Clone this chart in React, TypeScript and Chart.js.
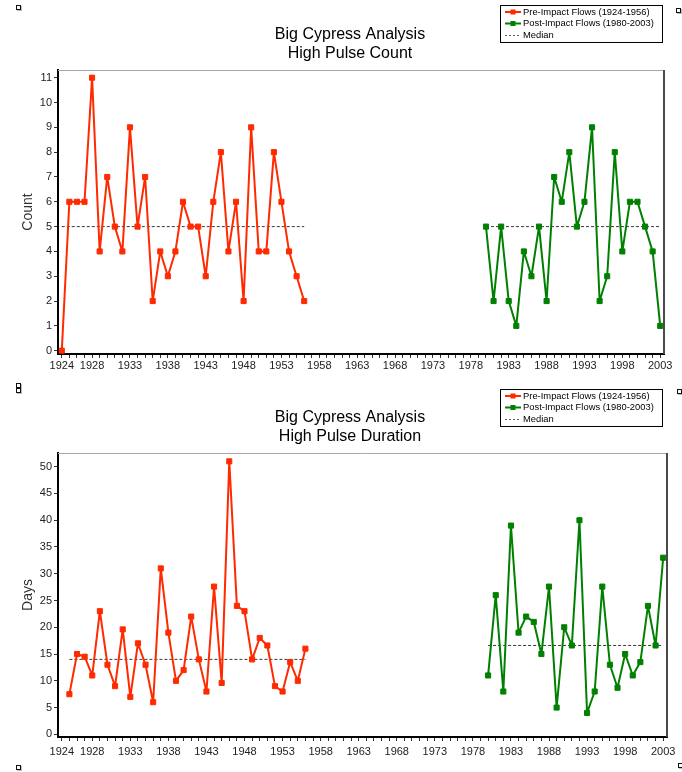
import React, { useEffect, useRef } from 'react';
import { Chart, registerables } from 'chart.js';

Chart.register(...registerables);

const FONT = '"Liberation Sans", Arial, Helvetica, sans-serif';
Chart.defaults.font.family = FONT;

// ---------- data ----------
const preCountYears = [1924, 1925, 1926, 1927, 1928, 1929, 1930, 1931, 1932, 1933, 1934, 1935, 1936, 1937, 1938, 1939, 1940, 1941, 1942, 1943, 1944, 1945, 1946, 1947, 1948, 1949, 1950, 1951, 1952, 1953, 1954, 1955, 1956];
const preCountValues = [0, 6, 6, 6, 11, 4, 7, 5, 4, 9, 5, 7, 2, 4, 3, 4, 6, 5, 5, 3, 6, 8, 4, 6, 2, 9, 4, 4, 8, 6, 4, 3, 2];
const postYears = [1980, 1981, 1982, 1983, 1984, 1985, 1986, 1987, 1988, 1989, 1990, 1991, 1992, 1993, 1994, 1995, 1996, 1997, 1998, 1999, 2000, 2001, 2002, 2003];
const postCountValues = [5, 2, 5, 2, 1, 4, 3, 5, 2, 7, 6, 8, 5, 6, 9, 2, 3, 8, 4, 6, 6, 5, 4, 1];
const countPreMedian = 5;
const countPostMedian = 5;

const preDurationYears = [1925, 1926, 1927, 1928, 1929, 1930, 1931, 1932, 1933, 1934, 1935, 1936, 1937, 1938, 1939, 1940, 1941, 1942, 1943, 1944, 1945, 1946, 1947, 1948, 1949, 1950, 1951, 1952, 1953, 1954, 1955, 1956];
const preDurationValues = [7.5, 15, 14.5, 11, 23, 13, 9, 19.6, 7, 17, 13, 6, 31, 19, 10, 12, 22, 14, 8, 27.6, 9.6, 51, 24, 23, 14, 18, 16.6, 9, 8, 13.5, 10, 16];
const postDurationValues = [11, 26, 8, 39, 19, 22, 21, 15, 27.6, 5, 20, 16.6, 40, 4, 8, 27.6, 13, 8.7, 15, 11, 13.5, 24, 16.6, 33];
const durationPreMedian = 14;
const durationPostMedian = 16.6;

const xLabelYears = [1924, 1928, 1933, 1938, 1943, 1948, 1953, 1958, 1963, 1968, 1973, 1978, 1983, 1988, 1993, 1998, 2003];
const countTicks = [0, 1, 2, 3, 4, 5, 6, 7, 8, 9, 10, 11];
const durationTicks = [0, 5, 10, 15, 20, 25, 30, 35, 40, 45, 50];

const seriesLabels = ['Pre-Impact Flows (1924-1956)', 'Post-Impact Flows (1980-2003)', 'Median'];
const mainTitle = 'Big Cypress Analysis';

// ---------- styles ----------
const RED = '#ff2a00';
const GREEN = '#008000';
const MEDIAN = '#3a3a3a';

const xTickYears: number[] = [];
for (let y = 1924; y <= 2003; y++) xTickYears.push(y);

const pts = (xs: number[], ys: number[]) => xs.map((x, i) => ({ x, y: ys[i] }));

const frameAndLegend = {
  id: 'boxLegend',
  afterDraw(chart: any, _args: any, opts: any) {
    const { ctx, chartArea: a } = chart;
    ctx.save();
    // top & right frame of plot area
    ctx.strokeStyle = '#a8a8a8';
    ctx.lineWidth = 1;
    ctx.beginPath();
    ctx.moveTo(a.left, a.top + 0.5);
    ctx.lineTo(a.right, a.top + 0.5);
    ctx.stroke();
    ctx.strokeStyle = '#4a4a4a';
    ctx.lineWidth = 2;
    ctx.beginPath();
    ctx.moveTo(a.right, a.top);
    ctx.lineTo(a.right, a.bottom);
    ctx.stroke();

    // legend box
    const x = opts.x, y = opts.y, w = opts.w, h = opts.h;
    ctx.fillStyle = '#fff';
    ctx.fillRect(x, y, w, h);
    ctx.strokeStyle = '#000';
    ctx.lineWidth = 1;
    ctx.strokeRect(x + 0.5, y + 0.5, w, h);
    const ds = chart.data.datasets;
    ctx.font = `9.4px ${FONT}`;
    ctx.textBaseline = 'middle';
    ctx.textAlign = 'left';
    for (let i = 0; i < 3; i++) {
      const d = ds[i];
      const cy = y + 7 + i * 11.5;
      if (i < 2) {
        ctx.strokeStyle = d.borderColor;
        ctx.lineWidth = 2;
        ctx.setLineDash([]);
        ctx.beginPath();
        ctx.moveTo(x + 5, cy);
        ctx.lineTo(x + 21, cy);
        ctx.stroke();
        ctx.fillStyle = d.borderColor;
        ctx.fillRect(x + 10.5, cy - 2.5, 5, 5);
      } else {
        ctx.strokeStyle = '#666';
        ctx.lineWidth = 1;
        ctx.setLineDash([2, 2]);
        ctx.beginPath();
        ctx.moveTo(x + 5, cy + 0.5);
        ctx.lineTo(x + 19, cy + 0.5);
        ctx.stroke();
        ctx.setLineDash([]);
      }
      ctx.fillStyle = '#000';
      ctx.fillText(d.label, x + 23, cy);
    }
    ctx.restore();
  },
};

type Spec = {
  top: number;
  subtitle: string;
  yTitle: string;
  preYears: number[];
  preValues: number[];
  postValues: number[];
  preMedian: number;
  postMedian: number;
  yMin: number;
  yMax: number;
  yTicks: number[];
  padLeft: number;
  padRight: number;
  yWidth: number;
  xHeight: number;
  xPad: number;
  titleTop: number;
  titleBottom: number;
  legendY: number;
};

function buildConfig(s: Spec): any {
  const yTitleFont = 14;
  const yTitlePad = 28 - s.padLeft - (yTitleFont * 1.2) / 2;
  const line = (color: string) => ({
    borderColor: color,
    backgroundColor: color,
    pointBackgroundColor: color,
    pointBorderColor: color,
    borderWidth: 2,
    borderJoinStyle: 'round',
    pointStyle: 'rect',
    pointRadius: 3.6,
    pointBorderWidth: 1,
    tension: 0,
  });
  const medianStyle = {
    borderColor: MEDIAN,
    backgroundColor: MEDIAN,
    borderWidth: 1,
    borderDash: [3, 2],
    pointRadius: 0,
    tension: 0,
  };
  const lastPre = s.preYears[s.preYears.length - 1];
  return {
    type: 'line',
    data: {
      datasets: [
        { label: seriesLabels[0], data: pts(s.preYears, s.preValues), ...line(RED) },
        { label: seriesLabels[1], data: pts(postYears, s.postValues), ...line(GREEN) },
        {
          label: seriesLabels[2],
          data: [{ x: s.preYears[0], y: s.preMedian }, { x: lastPre, y: s.preMedian }],
          ...medianStyle,
        },
        {
          label: seriesLabels[2],
          data: [{ x: postYears[0], y: s.postMedian }, { x: postYears[postYears.length - 1], y: s.postMedian }],
          ...medianStyle,
        },
      ],
    },
    options: {
      responsive: false,
      animation: false,
      devicePixelRatio: 1,
      layout: { padding: { left: s.padLeft, right: s.padRight, top: 0, bottom: 0 } },
      plugins: {
        legend: { display: false },
        tooltip: { enabled: false },
        title: {
          display: true,
          text: [mainTitle, s.subtitle],
          color: '#000',
          font: { family: FONT, size: 16, weight: 'normal', lineHeight: 1.15 },
          padding: { top: s.titleTop, bottom: s.titleBottom },
        },
        boxLegend: { x: 500, y: s.legendY, w: 162, h: 37 },
      },
      scales: {
        x: {
          type: 'linear',
          min: 1923.5,
          max: 2003.5,
          afterBuildTicks: (sc: any) => {
            sc.ticks = xTickYears.map((v) => ({ value: v }));
          },
          afterFit: (sc: any) => {
            sc.height = s.xHeight;
            sc.paddingLeft = 0;
            sc.paddingRight = 0;
          },
          ticks: {
            autoSkip: false,
            maxRotation: 0,
            minRotation: 0,
            padding: s.xPad,
            color: '#222',
            font: { family: FONT, size: 11 },
            callback: (v: number) => (xLabelYears.includes(v) ? String(v) : ''),
          },
          grid: { drawOnChartArea: false, drawTicks: true, tickLength: 4, color: '#333' },
          border: { display: true, color: '#000', width: 2 },
        },
        y: {
          type: 'linear',
          min: s.yMin,
          max: s.yMax,
          afterBuildTicks: (sc: any) => {
            sc.ticks = s.yTicks.map((v) => ({ value: v }));
          },
          afterFit: (sc: any) => {
            sc.width = s.yWidth;
            sc.paddingTop = 0;
            sc.paddingBottom = 0;
          },
          ticks: {
            padding: 2,
            color: '#222',
            font: { family: FONT, size: 11 },
            callback: (v: number) => String(v),
          },
          grid: { drawOnChartArea: false, drawTicks: true, tickLength: 4, color: '#333' },
          border: { display: true, color: '#000', width: 2 },
          title: {
            display: true,
            text: s.yTitle,
            color: '#333',
            font: { family: FONT, size: yTitleFont, lineHeight: 1.2 },
            padding: { top: yTitlePad, bottom: 0 },
          },
        },
      },
    },
    plugins: [frameAndLegend],
  };
}

function PulseChart({ spec }: { spec: Spec }) {
  const ref = useRef<HTMLCanvasElement>(null);
  useEffect(() => {
    const chart = new Chart(ref.current as HTMLCanvasElement, buildConfig(spec));
    return () => chart.destroy();
  }, [spec]);
  return (
    <canvas
      ref={ref}
      width={682}
      height={386}
      style={{ position: 'absolute', left: 0, top: spec.top, width: 682, height: 386 }}
    />
  );
}

const countSpec: Spec = {
  top: 0,
  subtitle: 'High Pulse Count',
  yTitle: 'Count',
  preYears: preCountYears,
  preValues: preCountValues,
  postValues: postCountValues,
  preMedian: countPreMedian,
  postMedian: countPostMedian,
  yMin: -0.133,
  yMax: 11.31,
  yTicks: countTicks,
  padLeft: 36,
  padRight: 18,
  yWidth: 22,
  xHeight: 32,
  xPad: 1,
  titleTop: 25.8,
  titleBottom: 7.4,
  legendY: 5,
};

const durationSpec: Spec = {
  top: 386,
  subtitle: 'High Pulse Duration',
  yTitle: 'Days',
  preYears: preDurationYears,
  preValues: preDurationValues,
  postValues: postDurationValues,
  preMedian: durationPreMedian,
  postMedian: durationPostMedian,
  yMin: -0.5,
  yMax: 52.56,
  yTicks: durationTicks,
  padLeft: 33,
  padRight: 15,
  yWidth: 25,
  xHeight: 35,
  xPad: 4,
  titleTop: 22.8,
  titleBottom: 7.4,
  legendY: 3,
};

const handles: { l: number; t: number }[] = [
  { l: 16, t: 5 },
  { l: 676, t: 8 },
  { l: 16, t: 383 },
  { l: 16, t: 388 },
  { l: 677, t: 389 },
  { l: 16, t: 765 },
  { l: 678, t: 763 },
];

export default function App() {
  return (
    <div style={{ position: 'absolute', left: 0, top: 0, width: 682, height: 772, background: '#fff', overflow: 'hidden' }}>
      <PulseChart spec={countSpec} />
      <PulseChart spec={durationSpec} />
      {handles.map((h, i) => (
        <div
          key={i}
          style={{
            position: 'absolute',
            left: h.l,
            top: h.t,
            width: 3,
            height: 3,
            border: '1px solid #111',
            boxShadow: '1px 1px 0 #bbb',
            background: '#fff',
          }}
        />
      ))}
    </div>
  );
}
